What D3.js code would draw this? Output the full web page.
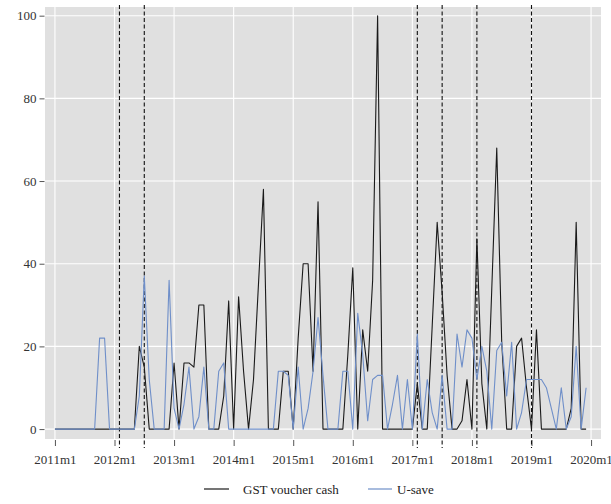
<!DOCTYPE html>
<html>
<head>
<meta charset="utf-8">
<script src="https://cdn.jsdelivr.net/npm/d3@7"></script>
<style>
  html, body { margin: 0; padding: 0; background: #ffffff; }
  svg text { font-family: "Liberation Serif", "DejaVu Serif", serif; }
</style>
</head>
<body>
<svg id="chart" width="611" height="504"></svg>
<script>
// ---- data (monthly, starting 2011m1) ----
const startYear = 2011;
const seriesNames = ["GST voucher cash", "U-save"];
const gstVoucherCash = [
  0,0,0,0,0,0,0,0,0,0,0,0,
  0,0,0,0,0,20,15,0,0,0,0,0,
  16,0,16,16,15,30,30,0,0,0,8,31,
  0,32,14,0,12,35,58,0,0,0,14,14,
  0,22,40,40,14,55,0,0,0,0,0,18,
  39,0,24,14,36,100,0,0,0,0,0,0,
  0,11,0,0,25,50,33,13,0,0,2,12,
  0,46,11,0,34,68,21,0,0,20,22,10,
  0,24,0,0,0,0,0,0,5,50,0,0
];
const uSave = [
  0,0,0,0,0,0,0,0,0,22,22,0,
  0,0,0,0,0,8,37,12,0,0,0,36,
  5,0,6,15,0,3,15,0,0,14,16,0,
  0,0,0,0,0,0,0,0,0,14,14,13,
  0,15,0,5,14,27,13,0,0,0,14,14,
  0,28,18,2,12,13,13,0,6,13,0,12,
  0,23,0,12,4,0,13,0,0,23,15,24,
  22,12,20,14,0,19,21,8,21,0,4,12,
  12,12,12,10,5,0,10,0,3,20,0,10
];
const xTickMonths = [0,12,24,36,48,60,72,84,96,108];
const xTickLabels = ["2011m1","2012m1","2013m1","2014m1","2015m1","2016m1","2017m1","2018m1","2019m1","2020m1"];
const yTicks = [0,20,40,60,80,100];
const dashedMonths = [13,18,73,78,85,96];   // 2012m2, 2012m7, 2017m2, 2017m7, 2018m2, 2019m1
const colors = ["#1a1a1a", "#6f8fc9"];

// ---- layout ----
const svg = d3.select("#chart");
const panel = {left: 45, right: 601, top: 7, bottom: 439};

const x = d3.scaleLinear().domain([-2, 110]).range([panel.left, panel.right]);
const y = d3.scaleLinear().domain([-2.4, 102.1]).range([panel.bottom, panel.top]);

// panel background
svg.append("rect")
  .attr("x", panel.left).attr("y", panel.top)
  .attr("width", panel.right - panel.left).attr("height", panel.bottom - panel.top)
  .attr("fill", "#e0e0e0");

// grid
const grid = svg.append("g");
grid.selectAll("line.h").data(yTicks).enter().append("line")
  .attr("x1", panel.left).attr("x2", panel.right)
  .attr("y1", d => y(d)).attr("y2", d => y(d))
  .attr("stroke", "#ffffff").attr("stroke-width", 1.1);
grid.selectAll("line.v").data(xTickMonths).enter().append("line")
  .attr("y1", panel.top).attr("y2", panel.bottom)
  .attr("x1", d => x(d)).attr("x2", d => x(d))
  .attr("stroke", "#ffffff").attr("stroke-width", 1.1);

// axes
const yAxis = d3.axisLeft(y).tickValues(yTicks).tickSize(5).tickPadding(3);
const gy = svg.append("g").attr("transform", `translate(${panel.left - 0.5},0)`).call(yAxis);
gy.select(".domain").remove();
gy.selectAll(".tick line").attr("stroke", "#555");
gy.selectAll(".tick text").attr("fill", "#333").attr("font-size", 13)
  .attr("font-family", "Liberation Serif, DejaVu Serif, serif");

const xAxis = d3.axisBottom(x).tickValues(xTickMonths)
  .tickFormat((d, i) => xTickLabels[i]).tickSize(6).tickPadding(9);
const gx = svg.append("g").attr("transform", `translate(0,${panel.bottom + 1})`).call(xAxis);
gx.select(".domain").remove();
gx.selectAll(".tick line").attr("stroke", "#555");
gx.selectAll(".tick text").attr("fill", "#333").attr("font-size", 13)
  .attr("font-family", "Liberation Serif, DejaVu Serif, serif");

// dashed reference lines
svg.append("g").selectAll("line").data(dashedMonths).enter().append("line")
  .attr("x1", d => x(d)).attr("x2", d => x(d))
  .attr("y1", 5).attr("y2", 448)
  .attr("stroke", "#111").attr("stroke-width", 1.1)
  .attr("stroke-dasharray", "4,2.5");

// series
const line = d3.line().x((d, i) => x(i)).y(d => y(d));
[gstVoucherCash, uSave].forEach((s, k) => {
  svg.append("path").datum(s)
    .attr("d", line)
    .attr("fill", "none")
    .attr("stroke", colors[k])
    .attr("stroke-width", 1.1)
    .attr("stroke-linejoin", "round");
});

// legend
const legendItems = [
  {name: seriesNames[0], color: colors[0], x1: 204, x2: 229, tx: 243},
  {name: seriesNames[1], color: colors[1], x1: 368, x2: 392, tx: 397}
];
const lg = svg.append("g");
legendItems.forEach(it => {
  lg.append("line").attr("x1", it.x1).attr("x2", it.x2).attr("y1", 489).attr("y2", 489)
    .attr("stroke", it.color).attr("stroke-width", 1.2);
  lg.append("text").attr("x", it.tx).attr("y", 493.5)
    .attr("font-size", 13).attr("fill", "#222").text(it.name);
});
</script>
</body>
</html>
